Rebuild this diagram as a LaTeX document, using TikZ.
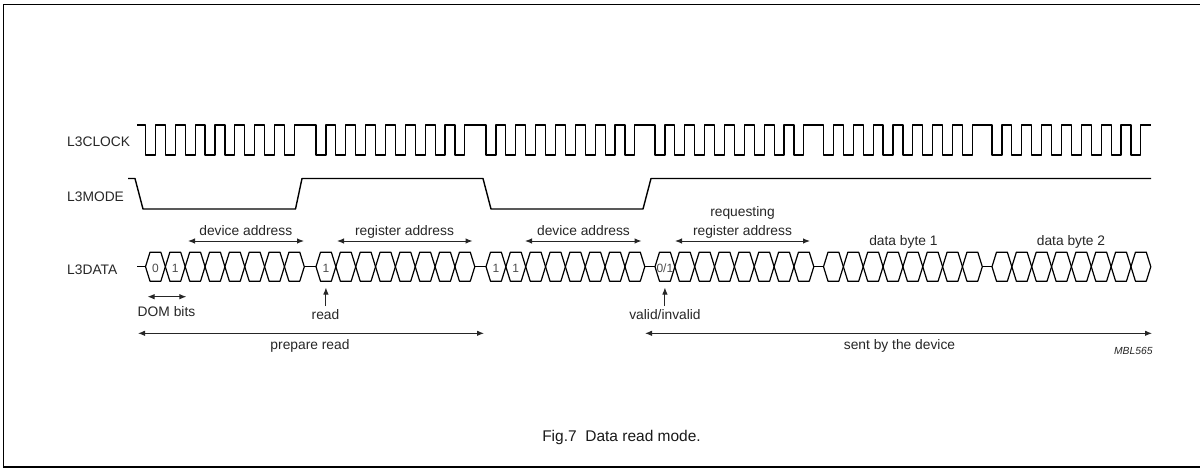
\documentclass[tikz,border=0pt]{standalone}
\usepackage{fontspec}
\setmainfont{Liberation Sans}
\usetikzlibrary{arrows.meta}
\begin{document}
\begin{tikzpicture}[x=1pt,y=-1pt,
  wave/.style={line width=1.2pt,line join=round},
  modewave/.style={line width=1.4pt,line join=round},
  dimline/.style={line width=1pt,black!85,{Latex[length=7pt,width=5.5pt]}-{Latex[length=7pt,width=5.5pt]}},
  uparrow/.style={line width=1pt,black!85,-{Latex[length=7pt,width=5.5pt]}},
  lbl/.style={inner sep=0pt,anchor=base,font=\fontsize{13.8}{15}\selectfont,text=black!85},
  sig/.style={inner sep=0pt,anchor=base west,font=\fontsize{13.8}{15}\selectfont,text=black!85},
  bit/.style={inner sep=0pt,anchor=base,font=\fontsize{12}{13}\selectfont,text=black!70}]
\useasboundingbox (0,0) rectangle (1200,469);
\def\cw{19.85}
\def\sl{4.5}
\def\dmid{266.7}
\def\dtop{252.2}
\def\dbot{281.2}
% frame
\draw[line width=1.3pt] (1200,4.3) -- (3.3,4.3) -- (3.3,467) -- (1200,467);
% signal names
\node[sig] (nclk) at (67,146.7) {L3CLOCK};
\node[sig] (nmode) at (67,201) {L3MODE};
\node[sig] (ndata) at (67,274.3) {L3DATA};
% clock
\draw[wave] (137,125)
  \foreach \g in {145.5,316,486,655,823.5,992}{
    \foreach \k in {0,...,7}{
      -- ({\g+\k*\cw},125) -- ({\g+\k*\cw},155) -- ({\g+(\k+0.5)*\cw},155) -- ({\g+(\k+0.5)*\cw},125)
    }
  } -- (1151,125);
% mode
\draw[modewave] (128,178.5) -- (135,178.5) -- (143,209) -- (295.5,209) -- (302,178.5)
  -- (483,178.5) -- (491,209) -- (643,209) -- (651,178.5) -- (1151,178.5);
% data cells
\foreach \g in {145.5,316,486,655,823.5,992}{
  \foreach \k in {0,...,7}{
    \draw[wave] ({\g+\k*\cw},\dmid) -- ({\g+\k*\cw+\sl},\dtop) -- ({\g+(\k+1)*\cw-\sl},\dtop)
      -- ({\g+(\k+1)*\cw},\dmid) -- ({\g+(\k+1)*\cw-\sl},\dbot) -- ({\g+\k*\cw+\sl},\dbot) -- cycle;
  }
}
\draw[wave] (137,\dmid) -- (145.5,\dmid);
\draw[wave] (304.3,\dmid) -- (316,\dmid);
\draw[wave] (474.8,\dmid) -- (486,\dmid);
\draw[wave] (644.8,\dmid) -- (655,\dmid);
\draw[wave] (813.8,\dmid) -- (823.5,\dmid);
\draw[wave] (982.3,\dmid) -- (992,\dmid);
% bit values
\node[bit] (b1) at (155.4,272.3) {0};
\node[bit] (b2) at (175.3,272.3) {1};
\node[bit] (b3) at (325.9,272.3) {1};
\node[bit] (b4) at (495.9,272.3) {1};
\node[bit] (b5) at (515.8,272.3) {1};
\node[bit] (b6) at (664.9,272.3) {0/1};
% field labels and arrows
\node[lbl] (tda1) at (245.8,235) {device address};
\coordinate (da1l) at (188,241); \coordinate (da1r) at (304,241);
\draw[dimline] (da1l) -- (da1r);
\node[lbl] (tra) at (404.5,235) {register address};
\coordinate (ral) at (337,241); \coordinate (rar) at (472.5,241);
\draw[dimline] (ral) -- (rar);
\node[lbl] (tda2) at (583.5,235) {device address};
\coordinate (da2l) at (525,241); \coordinate (da2r) at (641.5,241);
\draw[dimline] (da2l) -- (da2r);
\node[lbl] (treq) at (742.5,216) {requesting};
\node[lbl] (trra) at (742.5,235) {register address};
\coordinate (rral) at (675,241); \coordinate (rrar) at (810,241);
\draw[dimline] (rral) -- (rrar);
\node[lbl] (tdb1) at (903.4,245) {data byte 1};
\node[lbl] (tdb2) at (1071,245) {data byte 2};
% below data
\coordinate (doml) at (147.5,296.7); \coordinate (domr) at (186.4,296.7);
\draw[dimline] (doml) -- (domr);
\node[lbl] (tdom) at (166.5,316.7) {DOM bits};
\coordinate (rdb) at (325.9,306); \coordinate (rdt) at (325.9,287.5);
\draw[uparrow] (rdb) -- (rdt);
\node[lbl] (tread) at (325.5,319) {read};
\coordinate (vab) at (664.9,306); \coordinate (vat) at (664.9,287.5);
\draw[uparrow] (vab) -- (vat);
\node[lbl] (tvalid) at (665,319) {valid/invalid};
\coordinate (prl) at (138,333.3); \coordinate (prr) at (484,333.3);
\draw[dimline] (prl) -- (prr);
\node[lbl] (tprep) at (310,349) {prepare read};
\coordinate (sbl) at (645,333.3); \coordinate (sbr) at (1152,333.3);
\draw[dimline] (sbl) -- (sbr);
\node[lbl] (tsent) at (899.5,349) {sent by the device};
\node[inner sep=0pt,anchor=base east,font=\fontsize{10.3}{11}\selectfont\itshape,text=black!85] (mbl) at (1152.7,354) {MBL565};
% caption
\node[inner sep=0pt,anchor=base east,font=\fontsize{15.5}{17}\selectfont,text=black!90] (cap) at (701,441.5) {Fig.7\ \ Data read mode.};
\end{tikzpicture}
\end{document}
